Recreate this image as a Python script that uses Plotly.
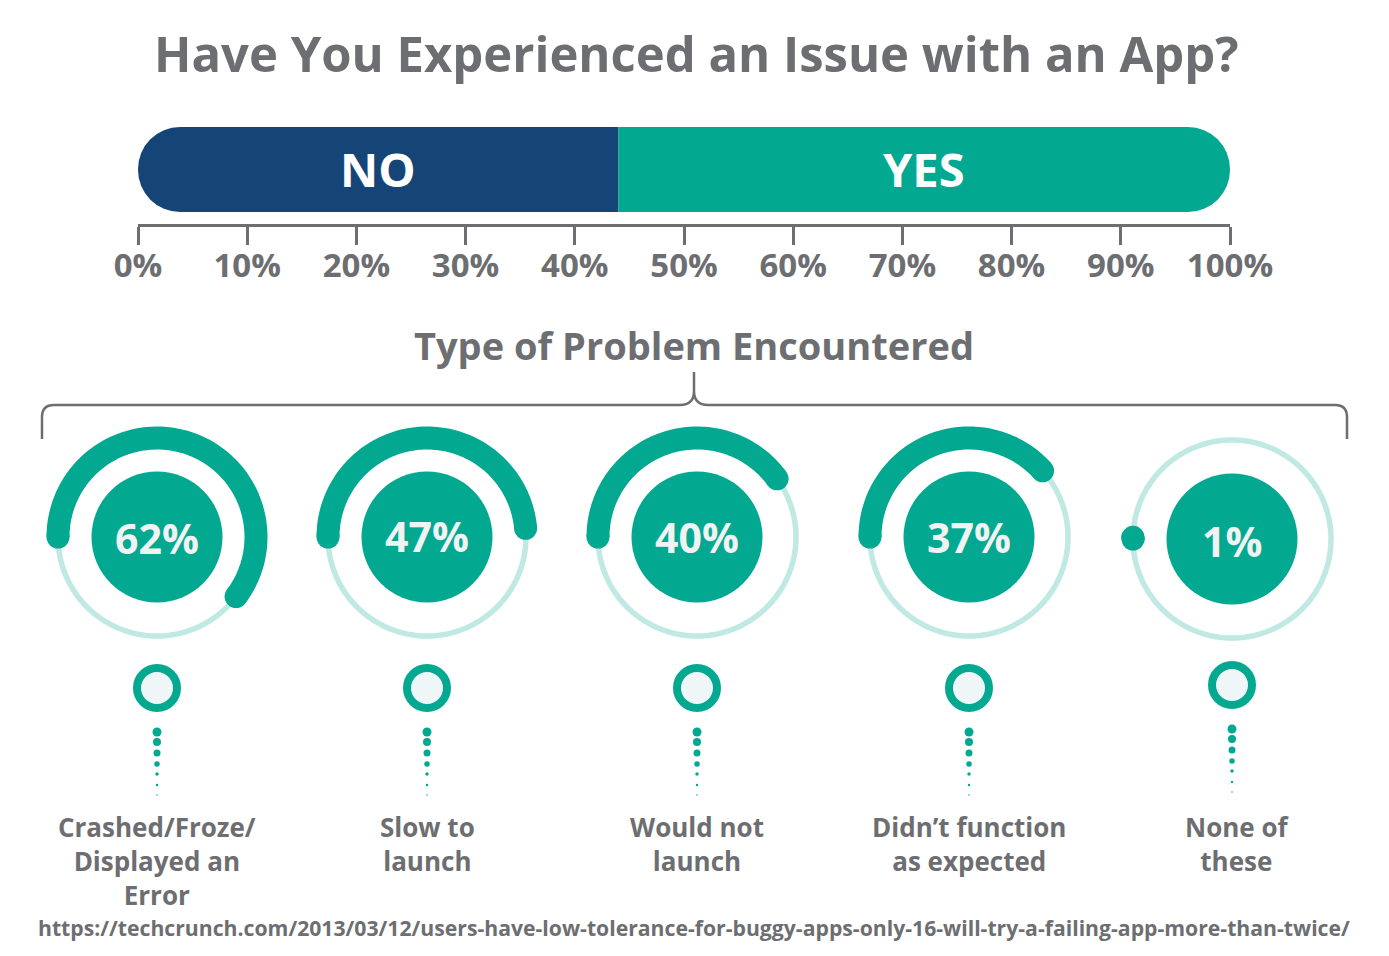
import numpy as np
import plotly.graph_objects as go

# the browser page keeps its 8px body margin, the figure sits inside it
PAGE_W = 1389
PAGE_H = 956
PAGE_MARGIN = 8

# data
answer_labels = ['NO', 'YES']
answer_values = [44, 56]
axis_ticks = [0, 10, 20, 30, 40, 50, 60, 70, 80, 90, 100]
axis_tick_labels = ['0%', '10%', '20%', '30%', '40%', '50%', '60%', '70%', '80%', '90%', '100%']

problem_labels = ['Crashed/Froze/<br>Displayed an<br>Error', 'Slow to<br>launch', 'Would not<br>launch',
                  'Didn\u2019t function<br>as expected', 'None of<br>these']
problem_percent = ['62%', '47%', '40%', '37%', '1%']
arc_span_degrees = [217, 175, 144, 138, 1]

title_text = 'Have You Experienced an Issue with an App?'
section_text = 'Type of Problem Encountered'
source_text = 'https://techcrunch.com/2013/03/12/users-have-low-tolerance-for-buggy-apps-only-16-will-try-a-failing-app-more-than-twice/'

# colours
TEAL = '#02A990'
NAVY = '#154577'
PALE = '#BFE9E2'
GREY = '#6D6E71'
PERCENT = '#F1F2F2'
FONT = 'Open Sans'

# layout, in page pixels
gauge_x = [157, 427, 697, 969, 1232]
gauge_y = [537, 537, 537, 537, 539]
percent_y = [538, 536, 537, 537, 541]
knob_y = [688, 688, 688, 688, 685]
label_x = [157, 427, 697, 969, 1237]
dot_offsets = [44, 54, 65, 76, 86, 97, 107]
dot_sizes = [9, 8, 7, 5.5, 3.5, 2.5, 1.5]
POLAR_HALF = 120
RING_R = 99
LABEL_TOP = 807

fig_w = PAGE_W - PAGE_MARGIN
fig_h = PAGE_H - PAGE_MARGIN


def px_x(x):
    return (x - PAGE_MARGIN) / fig_w


def px_y(y):
    return 1 - (y - PAGE_MARGIN) / fig_h


def page_text(text, x, y, size, colour=GREY, anchor='middle'):
    return dict(
        text=text, x=x, y=y, xref='x2', yref='y2', xanchor='center', yanchor=anchor, align='center',
        showarrow=False, font={'family': FONT, 'size': size, 'color': colour, 'weight': 700},
    )


fig = go.Figure()
annotations = []

# top bar, NO runs left and YES runs right from the split so both outer ends get rounded
split = answer_values[0]
for label, value, colour in zip(answer_labels, [-answer_values[0], answer_values[1]], [NAVY, TEAL]):
    fig.add_trace(go.Bar(
        x=[value], y=[0], width=1, orientation='h', name=label,
        marker={'color': colour, 'line': {'width': 0}}, hoverinfo='skip',
    ))
    annotations.append(dict(
        text=label, x=value / 2, y=0, xref='x', yref='y', showarrow=False,
        font={'family': FONT, 'size': 47, 'color': 'white', 'weight': 700},
    ))

# overlay axes in pixels for bracket, knobs and dots
for i, cx in enumerate(gauge_x):
    fig.add_trace(go.Scatter(
        x=[cx] * len(dot_offsets), y=[knob_y[i] + d for d in dot_offsets],
        mode='markers', xaxis='x2', yaxis='y2',
        marker={'color': TEAL, 'size': dot_sizes, 'opacity': 1, 'line': {'width': 0}}, hoverinfo='skip',
    ))
    fig.add_trace(go.Scatter(
        x=[cx], y=[knob_y[i]], mode='markers', xaxis='x2', yaxis='y2',
        marker={'color': '#EEF6F7', 'size': 40, 'line': {'color': TEAL, 'width': 8}}, hoverinfo='skip',
    ))

# gauges
for i, span in enumerate(arc_span_degrees):
    name = 'polar' if i == 0 else f'polar{i + 1}'
    theta_ring = np.linspace(0, 360, 181)
    theta_arc = np.linspace(0, span, 91)

    fig.add_trace(go.Scatterpolar(
        r=[RING_R] * len(theta_ring), theta=theta_ring, subplot=name, mode='lines',
        line={'color': PALE, 'width': 5.5}, hoverinfo='skip',
    ))
    fig.add_trace(go.Scatterpolar(
        r=[RING_R] * len(theta_arc), theta=theta_arc, subplot=name, mode='lines',
        line={'color': TEAL, 'width': 23}, hoverinfo='skip',
    ))
    fig.add_trace(go.Scatterpolar(
        r=[RING_R, RING_R], theta=[0, span], subplot=name, mode='markers',
        marker={'color': TEAL, 'size': 23, 'line': {'width': 0}}, hoverinfo='skip',
    ))
    fig.add_trace(go.Scatterpolar(
        r=[0], theta=[0], subplot=name, mode='markers',
        marker={'color': TEAL, 'size': 131, 'line': {'width': 0}}, hoverinfo='skip',
    ))
    annotations.append(page_text(problem_percent[i], gauge_x[i], percent_y[i], 41, colour=PERCENT))
    fig.update_layout(**{name: dict(
        domain={'x': [px_x(gauge_x[i] - POLAR_HALF), px_x(gauge_x[i] + POLAR_HALF)],
                'y': [px_y(gauge_y[i] + POLAR_HALF), px_y(gauge_y[i] - POLAR_HALF)]},
        bgcolor='rgba(0,0,0,0)',
        radialaxis={'visible': False, 'range': [0, POLAR_HALF]},
        angularaxis={'visible': False, 'rotation': 180, 'direction': 'clockwise'},
    )})

annotations += [
    page_text(title_text, 696, 53, 49),
    page_text(section_text, 694, 345, 38),
    page_text(source_text, 694, 927, 21.2),
]
for x, label in zip(label_x, problem_labels):
    annotations.append(page_text(label, x, LABEL_TOP, 26, anchor='top'))

fig.update_layout(
    width=fig_w,
    height=fig_h,
    margin={'l': 0, 'r': 0, 't': 0, 'b': 0, 'autoexpand': False},
    paper_bgcolor='white',
    plot_bgcolor='rgba(0,0,0,0)',
    showlegend=False,
    barmode='relative',
    barcornerradius=42,
    xaxis={
        'domain': [px_x(138), px_x(1230)], 'range': [-split, 100 - split], 'anchor': 'free', 'position': px_y(225),
        'tickvals': [t - split for t in axis_ticks], 'ticktext': axis_tick_labels, 'ticks': 'outside', 'ticklen': 18,
        'tickwidth': 3, 'tickcolor': GREY, 'showline': True, 'linecolor': GREY, 'linewidth': 3,
        'showgrid': False, 'zeroline': False, 'ticklabelstandoff': -8,
        'tickfont': {'family': FONT, 'size': 33, 'color': GREY, 'weight': 700},
    },
    yaxis={
        'domain': [px_y(212), px_y(127)], 'range': [-0.5, 0.5], 'visible': False,
    },
    xaxis2={'domain': [0, 1], 'range': [PAGE_MARGIN, PAGE_W], 'visible': False, 'anchor': 'y2'},
    yaxis2={'domain': [0, 1], 'range': [PAGE_H, PAGE_MARGIN], 'visible': False, 'anchor': 'x2'},
    annotations=annotations,
    shapes=[dict(
        type='path', xref='x2', yref='y2',
        path='M 42,439 V 417 Q 42,405 54,405 H 680 Q 694,405 694,391 V 372 M 694,391 Q 694,405 708,405 '
             'H 1335 Q 1347,405 1347,417 V 439',
        line={'color': GREY, 'width': 2.5},
    )],
)

fig.write_html("out.html")
